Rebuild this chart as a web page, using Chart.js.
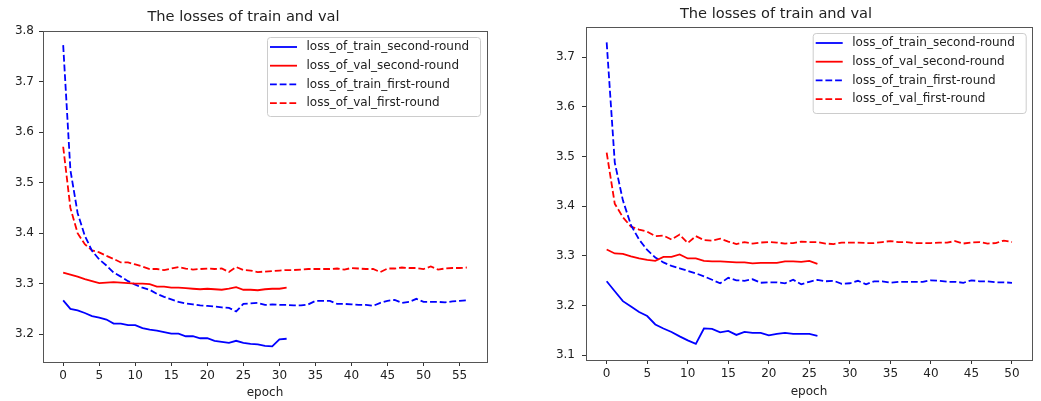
<!DOCTYPE html>
<html>
<head>
<meta charset="utf-8">
<script src="https://cdn.jsdelivr.net/npm/chart.js@4"></script>
<style>
  html, body { margin: 0; padding: 0; background: #fff; }
  #wrap { position: relative; width: 1041px; height: 401px; }
  .panel { position: absolute; top: 0; height: 401px; }
  #left { left: 0; width: 520px; }
  #right { left: 520px; width: 521px; }
</style>
</head>
<body>
<div id="wrap">
  <div class="panel" id="left"><canvas id="chartLeft"></canvas></div>
  <div class="panel" id="right"><canvas id="chartRight"></canvas></div>
</div>
<script>
// Legend labels (same for both panels)
const seriesLabels = [
  'loss_of_train_second-round',
  'loss_of_val_second-round',
  'loss_of_train_first-round',
  'loss_of_val_first-round'
];

// Tick values
const leftXTicks = [0, 5, 10, 15, 20, 25, 30, 35, 40, 45, 50, 55];
const leftYTicks = [3.2, 3.3, 3.4, 3.5, 3.6, 3.7, 3.8];
const rightXTicks = [0, 5, 10, 15, 20, 25, 30, 35, 40, 45, 50];
const rightYTicks = [3.1, 3.2, 3.3, 3.4, 3.5, 3.6, 3.7];

// Left panel values
const leftTrainSecond = [3.267, 3.250, 3.247, 3.242, 3.236, 3.233, 3.229, 3.221, 3.221, 3.218,
  3.218, 3.212, 3.209, 3.207, 3.204, 3.201, 3.201, 3.196, 3.196, 3.192,
  3.192, 3.187, 3.185, 3.183, 3.187, 3.183, 3.181, 3.180, 3.177, 3.176,
  3.190, 3.191];
const leftValSecond = [3.322, 3.318, 3.314, 3.309, 3.305, 3.301, 3.302, 3.303, 3.302, 3.301,
  3.300, 3.300, 3.299, 3.294, 3.294, 3.292, 3.292, 3.291, 3.290, 3.289,
  3.290, 3.289, 3.288, 3.290, 3.293, 3.288, 3.288, 3.287, 3.289, 3.290,
  3.290, 3.292];
const leftTrainFirst = [3.772, 3.525, 3.440, 3.395, 3.365, 3.348, 3.336, 3.322, 3.314, 3.305,
  3.298, 3.292, 3.288, 3.280, 3.274, 3.269, 3.264, 3.261, 3.259, 3.257,
  3.256, 3.255, 3.253, 3.252, 3.245, 3.260, 3.261, 3.262, 3.258, 3.259,
  3.258, 3.258, 3.257, 3.257, 3.259, 3.266, 3.266, 3.266, 3.260, 3.260,
  3.259, 3.258, 3.258, 3.256, 3.262, 3.266, 3.268, 3.262, 3.264, 3.270,
  3.264, 3.264, 3.264, 3.263, 3.265, 3.266, 3.267];
const leftValFirst = [3.571, 3.450, 3.400, 3.378, 3.366, 3.362, 3.355, 3.349, 3.342, 3.342,
  3.338, 3.334, 3.329, 3.329, 3.327, 3.330, 3.333, 3.330, 3.328, 3.329,
  3.330, 3.329, 3.330, 3.323, 3.333, 3.327, 3.326, 3.323, 3.324, 3.325,
  3.326, 3.327, 3.327, 3.328, 3.329, 3.329, 3.329, 3.329, 3.330, 3.328,
  3.331, 3.330, 3.329, 3.329, 3.323, 3.330, 3.330, 3.332, 3.331, 3.331,
  3.329, 3.334, 3.328, 3.330, 3.331, 3.331, 3.332];

// Right panel values
const rightTrainSecond = [3.249, 3.229, 3.209, 3.198, 3.187, 3.179, 3.162, 3.154, 3.147, 3.138,
  3.130, 3.123, 3.154, 3.153, 3.146, 3.149, 3.141, 3.147, 3.145, 3.145,
  3.140, 3.143, 3.145, 3.143, 3.143, 3.143, 3.139];
const rightValSecond = [3.313, 3.305, 3.304, 3.299, 3.295, 3.292, 3.290, 3.298, 3.298, 3.303,
  3.295, 3.295, 3.290, 3.289, 3.289, 3.288, 3.287, 3.287, 3.285, 3.286,
  3.286, 3.286, 3.289, 3.289, 3.288, 3.290, 3.284];
const rightTrainFirst = [3.730, 3.488, 3.412, 3.362, 3.333, 3.312, 3.297, 3.287, 3.280, 3.275,
  3.270, 3.265, 3.259, 3.252, 3.245, 3.256, 3.251, 3.250, 3.253, 3.246,
  3.247, 3.247, 3.245, 3.252, 3.243, 3.248, 3.252, 3.249, 3.250, 3.244,
  3.245, 3.250, 3.243, 3.249, 3.249, 3.246, 3.248, 3.248, 3.248, 3.248,
  3.251, 3.250, 3.248, 3.248, 3.246, 3.251, 3.249, 3.249, 3.247, 3.247,
  3.246];
const rightValFirst = [3.508, 3.405, 3.378, 3.359, 3.353, 3.349, 3.340, 3.341, 3.333, 3.343,
  3.326, 3.340, 3.332, 3.331, 3.335, 3.329, 3.324, 3.328, 3.325, 3.327,
  3.328, 3.327, 3.325, 3.326, 3.329, 3.328, 3.328, 3.325, 3.324, 3.327,
  3.327, 3.327, 3.326, 3.326, 3.328, 3.330, 3.328, 3.328, 3.326, 3.326,
  3.326, 3.327, 3.327, 3.330, 3.325, 3.327, 3.328, 3.325, 3.326, 3.331,
  3.328];

const FONT = '"DejaVu Sans", sans-serif';
const TEXT = '#222';

// Helper: turn a value list into {x: epoch, y: loss} points
function toPoints(values) {
  return values.map((v, i) => ({ x: i, y: v }));
}

// Spines on all four sides + matplotlib-like legend box
const frameLegend = {
  id: 'frameLegend',
  afterDatasetsDraw(chart, args, opts) {
    const ctx = chart.ctx;
    const a = chart.chartArea;
    ctx.save();

    ctx.strokeStyle = '#555';
    ctx.lineWidth = 1;
    ctx.strokeRect(Math.round(a.left) + 0.5, Math.round(a.top) + 0.5,
      Math.round(a.right - a.left), Math.round(a.bottom - a.top));

    // legend frame
    const { x, y, w, h } = opts;
    ctx.beginPath();
    ctx.roundRect(x + 0.5, y + 0.5, w, h, 3);
    ctx.fillStyle = 'rgba(255,255,255,0.85)';
    ctx.fill();
    ctx.strokeStyle = '#ccc';
    ctx.stroke();

    ctx.font = '12px ' + FONT;
    ctx.textBaseline = 'middle';
    ctx.textAlign = 'left';
    chart.data.datasets.forEach((ds, i) => {
      const rowY = y + 10 + i * 18.7;
      ctx.strokeStyle = ds.borderColor;
      ctx.lineWidth = ds.borderWidth;
      ctx.setLineDash(ds.borderDash || []);
      ctx.beginPath();
      ctx.moveTo(x + 3, rowY);
      ctx.lineTo(x + 30, rowY);
      ctx.stroke();
      ctx.setLineDash([]);
      ctx.fillStyle = TEXT;
      ctx.fillText(ds.label, x + 39.5, rowY);
    });
    ctx.restore();
  }
};

function makeChart(canvasId, data, s) {
  const styles = [
    { color: '#0000ff', dash: [] },
    { color: '#ff0000', dash: [] },
    { color: '#0000ff', dash: [6.8, 2.9] },
    { color: '#ff0000', dash: [6.8, 2.9] }
  ];
  const datasets = data.map((vals, i) => ({
    label: seriesLabels[i],
    data: toPoints(vals),
    borderColor: styles[i].color,
    borderDash: styles[i].dash,
    borderWidth: 1.8,
    pointRadius: 0,
    tension: 0,
    fill: false
  }));

  return new Chart(document.getElementById(canvasId), {
    type: 'line',
    data: { datasets: datasets },
    plugins: [frameLegend],
    options: {
      responsive: true,
      maintainAspectRatio: false,
      animation: false,
      layout: { padding: { left: 0, right: s.padRight, top: 0, bottom: 0 } },
      plugins: {
        legend: { display: false },
        tooltip: { enabled: false },
        title: {
          display: true,
          text: 'The losses of train and val',
          color: TEXT,
          font: { family: FONT, size: 14.6, weight: 'normal' },
          padding: { top: s.titleTop, bottom: s.titleBottom }
        },
        frameLegend: s.legend
      },
      scales: {
        x: {
          type: 'linear',
          min: s.xMin,
          max: s.xMax,
          afterBuildTicks: (scale) => { scale.ticks = s.xTicks.map(v => ({ value: v })); },
          afterFit: (scale) => { scale.height = s.xHeight; },
          border: { display: false },
          grid: { drawOnChartArea: false, drawTicks: true, tickLength: 4, tickColor: '#333' },
          ticks: {
            padding: 3,
            maxRotation: 0,
            autoSkip: false,
            color: TEXT,
            font: { family: FONT, size: 12 },
            callback: (v) => String(v)
          },
          title: {
            display: true,
            text: 'epoch',
            color: TEXT,
            font: { family: FONT, size: 12 },
            padding: { top: 0, bottom: s.epochPad }
          }
        },
        y: {
          min: s.yMin,
          max: s.yMax,
          afterBuildTicks: (scale) => { scale.ticks = s.yTicks.map(v => ({ value: v })); },
          afterFit: (scale) => { scale.width = s.yWidth; },
          border: { display: false },
          grid: { drawOnChartArea: false, drawTicks: true, tickLength: 4, tickColor: '#333' },
          ticks: {
            padding: s.yPad,
            autoSkip: false,
            color: TEXT,
            font: { family: FONT, size: 12 },
            callback: (v) => Number(v).toFixed(1)
          }
        }
      }
    }
  });
}

makeChart('chartLeft', [leftTrainSecond, leftValSecond, leftTrainFirst, leftValFirst], {
  xMin: -2.8, xMax: 58.8, yMin: 3.145, yMax: 3.80,
  xTicks: leftXTicks, yTicks: leftYTicks,
  padRight: 33, yWidth: 43, xHeight: 39,
  titleTop: 8.25, titleBottom: 5.25, epochPad: 0.5, yPad: 5,
  legend: { x: 267, y: 37, w: 213, h: 79 }
});

makeChart('chartRight', [rightTrainSecond, rightValSecond, rightTrainFirst, rightValFirst], {
  xMin: -2.55, xMax: 52.47, yMin: 3.0905, yMax: 3.761,
  xTicks: rightXTicks, yTicks: rightYTicks,
  padRight: 9, yWidth: 66, xHeight: 41,
  titleTop: 5.25, titleBottom: 4.25, epochPad: 1.5, yPad: 7,
  legend: { x: 292.7, y: 33, w: 213, h: 80 }
});
</script>
</body>
</html>
